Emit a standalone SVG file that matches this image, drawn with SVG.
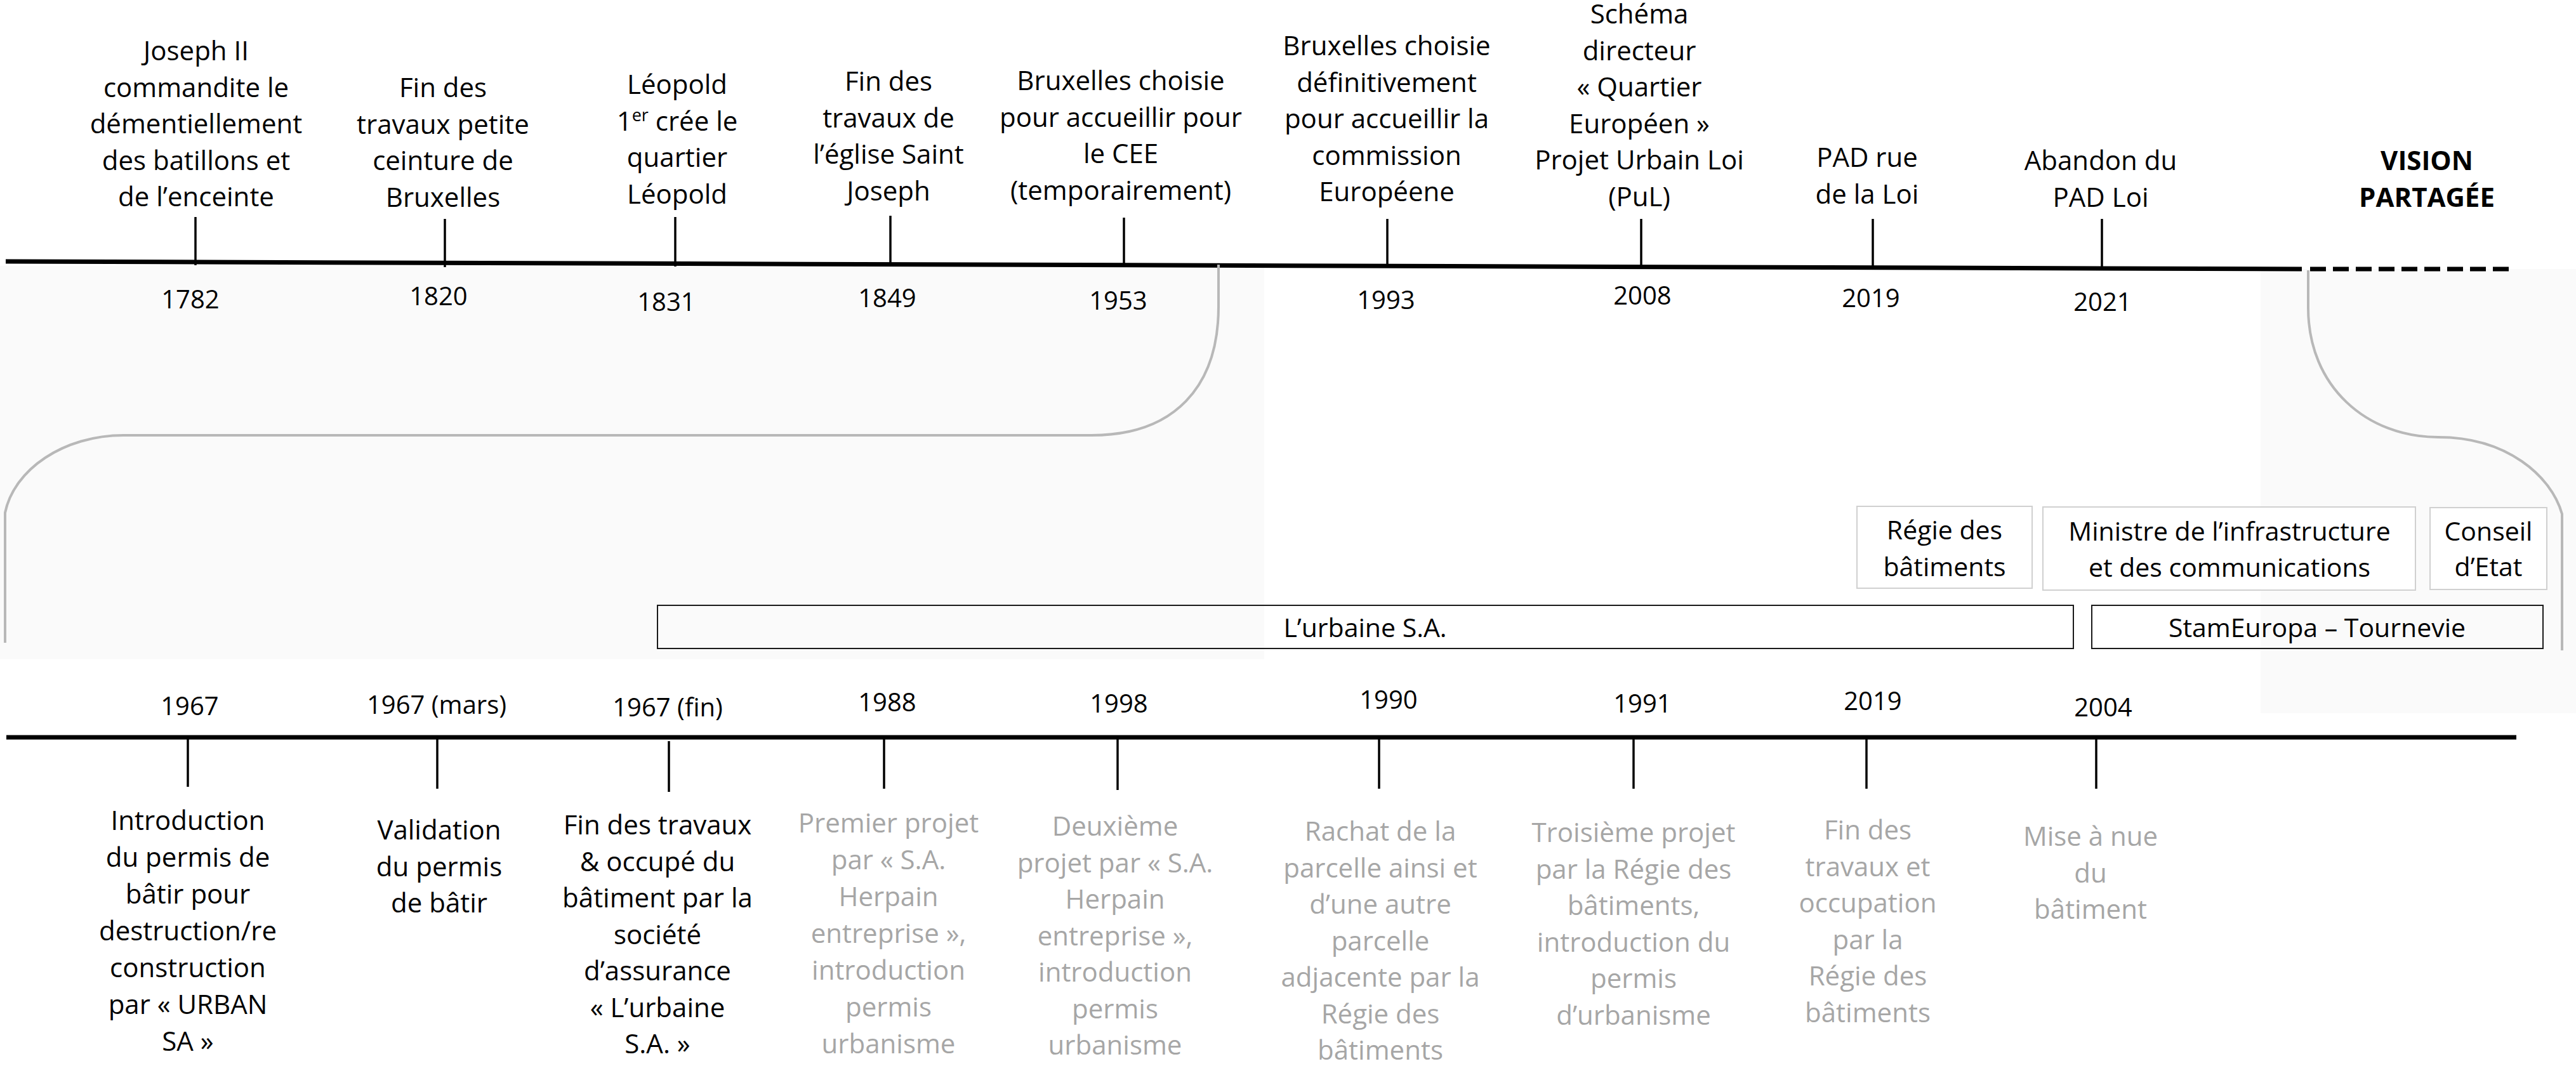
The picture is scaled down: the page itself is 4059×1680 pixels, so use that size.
<svg xmlns="http://www.w3.org/2000/svg" width="4059" height="1680" viewBox="0 0 4059 1680">
<style>
text{font-family:"Open Sans","Liberation Sans",sans-serif;font-size:42px;text-anchor:middle;fill:#000}
.g{fill:#a6a6a6}
.yr{font-size:40px}
.b{font-weight:bold}
.bx{font-size:41px}
.tick{stroke:#000;stroke-width:3.5}
.axis{stroke:#000;stroke-width:7;fill:none}
.conn{fill:none;stroke:#b8b8b8;stroke-width:4}
.boxg{fill:#fff;stroke:#d0d0d0;stroke-width:2}
.boxk{fill:none;stroke:#1a1a1a;stroke-width:2}
</style>
<rect width="4059" height="1680" fill="#fff"/>
<rect x="0" y="419" width="1992" height="620" fill="#fafafa"/>
<rect x="3562" y="424" width="497" height="700" fill="#fafafa"/>

<g id="axes">
<line class="axis" x1="9" y1="412" x2="3627" y2="424"/>
<line class="axis" x1="3640" y1="424" x2="3961" y2="424" stroke-dasharray="25 11"/>
<line class="axis" x1="10" y1="1162" x2="3965" y2="1162"/>
</g>

<g id="connectors">
<path class="conn" d="M1920,417 V483 C1920,610 1850,686 1720,686 H195 C100,686 22,740 8,808 V1013"/>
<path class="conn" d="M3637,426 V485 C3637,610 3730,689 3842,689 C3950,689 4020,750 4037,810 V1025"/>
</g>

<g id="e1782">
<line class="tick" x1="308" y1="342" x2="308" y2="418"/>
<text class="yr" x="300" y="486">1782</text>
<text x="309" y="95">Joseph II<tspan x="309" dy="57.5">commandite le</tspan><tspan x="309" dy="57.5">démentiellement</tspan><tspan x="309" dy="57.5">des batillons et</tspan><tspan x="309" dy="57.5">de l’enceinte</tspan></text>
</g>
<g id="e1820">
<line class="tick" x1="701" y1="345" x2="701" y2="421"/>
<text class="yr" x="691" y="481">1820</text>
<text x="698" y="153">Fin des<tspan x="698" dy="57.5">travaux petite</tspan><tspan x="698" dy="57.5">ceinture de</tspan><tspan x="698" dy="57.5">Bruxelles</tspan></text>
</g>
<g id="e1831">
<line class="tick" x1="1064" y1="342" x2="1064" y2="420"/>
<text class="yr" x="1050" y="490">1831</text>
<text x="1067" y="148">Léopold<tspan x="1067" dy="57.5">1<tspan font-size="27" dy="-15">er</tspan><tspan dy="15"> crée le</tspan></tspan><tspan x="1067" dy="57.5">quartier</tspan><tspan x="1067" dy="57.5">Léopold</tspan></text>
</g>
<g id="e1849">
<line class="tick" x1="1403" y1="340" x2="1403" y2="420"/>
<text class="yr" x="1398" y="484">1849</text>
<text x="1400" y="143">Fin des<tspan x="1400" dy="57.5">travaux de</tspan><tspan x="1400" dy="57.5">l’église Saint</tspan><tspan x="1400" dy="57.5">Joseph</tspan></text>
</g>
<g id="e1953">
<line class="tick" x1="1771" y1="343" x2="1771" y2="421"/>
<text class="yr" x="1762" y="488">1953</text>
<text x="1766" y="142">Bruxelles choisie<tspan x="1766" dy="57.5">pour accueillir pour</tspan><tspan x="1766" dy="57.5">le CEE</tspan><tspan x="1766" dy="57.5">(temporairement)</tspan></text>
</g>
<g id="e1993">
<line class="tick" x1="2186" y1="345" x2="2186" y2="422"/>
<text class="yr" x="2184" y="487">1993</text>
<text x="2185" y="87">Bruxelles choisie<tspan x="2185" dy="57.5">définitivement</tspan><tspan x="2185" dy="57.5">pour accueillir la</tspan><tspan x="2185" dy="57.5">commission</tspan><tspan x="2185" dy="57.5">Européene</tspan></text>
</g>
<g id="e2008">
<line class="tick" x1="2586" y1="345" x2="2586" y2="422"/>
<text class="yr" x="2588" y="480">2008</text>
<text x="2583" y="37">Schéma<tspan x="2583" dy="57.5">directeur</tspan><tspan x="2583" dy="57.5">« Quartier</tspan><tspan x="2583" dy="57.5">Européen »</tspan><tspan x="2583" dy="57.5">Projet Urbain Loi</tspan><tspan x="2583" dy="57.5">(PuL)</tspan></text>
</g>
<g id="e2019a">
<line class="tick" x1="2951" y1="345" x2="2951" y2="423"/>
<text class="yr" x="2948" y="484">2019</text>
<text x="2942" y="263">PAD rue<tspan x="2942" dy="57.5">de la Loi</tspan></text>
</g>
<g id="e2021">
<line class="tick" x1="3312" y1="345" x2="3312" y2="424"/>
<text class="yr" x="3313" y="490">2021</text>
<text x="3310" y="268">Abandon du<tspan x="3310" dy="57.5">PAD Loi</tspan></text>
</g>
<g id="vision">
<text class="b" x="3824" y="268">VISION<tspan x="3824" dy="57.5">PARTAGÉE</tspan></text>
</g>

<g id="actors">
<g id="regie"><rect class="boxg" x="2926" y="798" width="276" height="129"/><text class="bx" x="3064" y="850">Régie des<tspan x="3064" dy="58">bâtiments</tspan></text></g>
<g id="ministre"><rect class="boxg" x="3219" y="799" width="587" height="131"/><text class="bx" x="3513" y="852">Ministre de l’infrastructure<tspan x="3513" dy="57">et des communications</tspan></text></g>
<g id="conseil"><rect class="boxg" x="3829" y="800" width="184" height="129"/><text class="bx" x="3921" y="852">Conseil<tspan x="3921" dy="56">d’Etat</tspan></text></g>
<g id="urbaine"><rect class="boxk" x="1036" y="954" width="2231" height="68"/><text class="bx" x="2151" y="1004">L’urbaine S.A.</text></g>
<g id="stameuropa"><rect class="boxk" x="3296" y="954" width="711" height="68"/><text class="bx" x="3651" y="1004">StamEuropa – Tournevie</text></g>
</g>

<g id="b1967">
<line class="tick" x1="296" y1="1162" x2="296" y2="1240"/>
<text class="yr" x="299" y="1127">1967</text>
<text x="296" y="1308">Introduction<tspan x="296" dy="58">du permis de</tspan><tspan x="296" dy="58">bâtir pour</tspan><tspan x="296" dy="58">destruction/re</tspan><tspan x="296" dy="58">construction</tspan><tspan x="296" dy="58">par « URBAN</tspan><tspan x="296" dy="58">SA »</tspan></text>
</g>
<g id="b1967mars">
<line class="tick" x1="689" y1="1162" x2="689" y2="1243"/>
<text class="yr" x="688" y="1125">1967 (mars)</text>
<text x="692" y="1323">Validation<tspan x="692" dy="57.5">du permis</tspan><tspan x="692" dy="57.5">de bâtir</tspan></text>
</g>
<g id="b1967fin">
<line class="tick" x1="1054" y1="1168" x2="1054" y2="1248"/>
<text class="yr" x="1052" y="1129">1967 (fin)</text>
<text x="1036" y="1315">Fin des travaux<tspan x="1036" dy="57.5">&amp; occupé du</tspan><tspan x="1036" dy="57.5">bâtiment par la</tspan><tspan x="1036" dy="57.5">société</tspan><tspan x="1036" dy="57.5">d’assurance</tspan><tspan x="1036" dy="57.5">« L’urbaine</tspan><tspan x="1036" dy="57.5">S.A. »</tspan></text>
</g>
<g id="b1988">
<line class="tick" x1="1393" y1="1162" x2="1393" y2="1243"/>
<text class="yr" x="1398" y="1121">1988</text>
<text class="g" x="1400" y="1312">Premier projet<tspan x="1400" dy="58">par « S.A.</tspan><tspan x="1400" dy="58">Herpain</tspan><tspan x="1400" dy="58">entreprise »,</tspan><tspan x="1400" dy="58">introduction</tspan><tspan x="1400" dy="58">permis</tspan><tspan x="1400" dy="58">urbanisme</tspan></text>
</g>
<g id="b1998">
<line class="tick" x1="1761" y1="1162" x2="1761" y2="1245"/>
<text class="yr" x="1763" y="1123">1998</text>
<text class="g" x="1757" y="1317">Deuxième<tspan x="1757" dy="57.5">projet par « S.A.</tspan><tspan x="1757" dy="57.5">Herpain</tspan><tspan x="1757" dy="57.5">entreprise »,</tspan><tspan x="1757" dy="57.5">introduction</tspan><tspan x="1757" dy="57.5">permis</tspan><tspan x="1757" dy="57.5">urbanisme</tspan></text>
</g>
<g id="b1990">
<line class="tick" x1="2173" y1="1162" x2="2173" y2="1243"/>
<text class="yr" x="2188" y="1117">1990</text>
<text class="g" x="2175" y="1325">Rachat de la<tspan x="2175" dy="57.5">parcelle ainsi et</tspan><tspan x="2175" dy="57.5">d’une autre</tspan><tspan x="2175" dy="57.5">parcelle</tspan><tspan x="2175" dy="57.5">adjacente par la</tspan><tspan x="2175" dy="57.5">Régie des</tspan><tspan x="2175" dy="57.5">bâtiments</tspan></text>
</g>
<g id="b1991">
<line class="tick" x1="2574" y1="1162" x2="2574" y2="1243"/>
<text class="yr" x="2588" y="1123">1991</text>
<text class="g" x="2574" y="1327">Troisième projet<tspan x="2574" dy="57.5">par la Régie des</tspan><tspan x="2574" dy="57.5">bâtiments,</tspan><tspan x="2574" dy="57.5">introduction du</tspan><tspan x="2574" dy="57.5">permis</tspan><tspan x="2574" dy="57.5">d’urbanisme</tspan></text>
</g>
<g id="b2019">
<line class="tick" x1="2941" y1="1162" x2="2941" y2="1243"/>
<text class="yr" x="2951" y="1119">2019</text>
<text class="g" x="2943" y="1323">Fin des<tspan x="2943" dy="57.5">travaux et</tspan><tspan x="2943" dy="57.5">occupation</tspan><tspan x="2943" dy="57.5">par la</tspan><tspan x="2943" dy="57.5">Régie des</tspan><tspan x="2943" dy="57.5">bâtiments</tspan></text>
</g>
<g id="b2004">
<line class="tick" x1="3303" y1="1162" x2="3303" y2="1243"/>
<text class="yr" x="3314" y="1129">2004</text>
<text class="g" x="3294" y="1333">Mise à nue<tspan x="3294" dy="57.5">du</tspan><tspan x="3294" dy="57.5">bâtiment</tspan></text>
</g>
</svg>
